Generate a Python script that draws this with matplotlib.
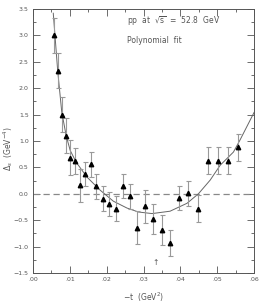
import numpy as np
import matplotlib
matplotlib.use("Agg")
import matplotlib.pyplot as plt
from matplotlib.ticker import MultipleLocator, FuncFormatter

t = [0.0057, 0.0067, 0.0078, 0.0090, 0.0101, 0.0115, 0.0128, 0.0141, 0.0157,
     0.0172, 0.0189, 0.0207, 0.0225, 0.0243, 0.0263, 0.0283, 0.0305, 0.0326,
     0.0349, 0.0373, 0.0397, 0.0422, 0.0448, 0.0474, 0.0501, 0.0528, 0.0557]
delta = [3.00, 2.33, 1.50, 1.10, 0.68, 0.62, 0.16, 0.37, 0.56,
         0.14, -0.09, -0.20, -0.28, 0.15, -0.05, -0.64, -0.24, -0.48,
         -0.69, -0.93, -0.08, 0.01, -0.28, 0.63, 0.63, 0.63, 0.88]
err = [0.33, 0.33, 0.33, 0.33, 0.33, 0.25, 0.31, 0.23, 0.24,
       0.23, 0.23, 0.23, 0.23, 0.23, 0.23, 0.32, 0.32, 0.29,
       0.28, 0.25, 0.23, 0.24, 0.25, 0.25, 0.25, 0.25, 0.25]

# polynomial fit curve
fit_t = [0.0055, 0.0067, 0.0078, 0.0090, 0.0101, 0.0117, 0.0146, 0.0182, 0.0218,
         0.0255, 0.0286, 0.0323, 0.0372, 0.0418, 0.0449, 0.0481, 0.0508, 0.0544,
         0.0562, 0.0600]
fit_d = [3.42, 2.33, 1.55, 1.10, 0.82, 0.60, 0.32, 0.07, -0.14,
         -0.27, -0.345, -0.375, -0.33, -0.18, 0.0, 0.26, 0.54, 0.79,
         1.02, 1.54]

grey = "#555555"
plt.rcParams["font.family"] = "DejaVu Sans"

fig = plt.figure(figsize=(2.63, 3.05), dpi=100)
ax = fig.add_axes([0.1255, 0.105, 0.8405, 0.8655])

ax.axhline(0, color="#888888", lw=0.9, dashes=(5, 3))
ax.plot(fit_t, fit_d, color="#666666", lw=0.7)
ax.errorbar(t, delta, yerr=err, fmt="none", ecolor="#999999", elinewidth=0.8,
            capsize=1.8, capthick=0.8)
ax.plot(t, delta, "^", color="black", ms=3.2)

ax.set_xlim(0, 0.06)
ax.set_ylim(-1.5, 3.5)
ax.xaxis.set_major_locator(MultipleLocator(0.01))
ax.xaxis.set_minor_locator(MultipleLocator(0.005))
ax.yaxis.set_major_locator(MultipleLocator(0.5))
ax.yaxis.set_minor_locator(MultipleLocator(0.25))
ax.xaxis.set_major_formatter(FuncFormatter(lambda v, p: ("%.2f" % v)[1:]))
ax.yaxis.set_major_formatter(FuncFormatter(lambda v, p: ("%.1f" % v).replace("-", "\u2212")))
ax.tick_params(which="both", direction="in", top=True, right=True, colors=grey,
               labelsize=4.5, width=0.6)
ax.tick_params(which="major", length=5, pad=3)
ax.tick_params(which="minor", length=2.5)
for s in ax.spines.values():
    s.set_color(grey)
    s.set_linewidth(0.7)

ax.text(0.0255, 3.22, r"pp  at  $\sqrt{\mathrm{s}}$  =  52.8  GeV", fontsize=5.5, color=grey)
ax.text(0.0255, 2.85, "Polynomial  fit", fontsize=5.5, color=grey)
ax.text(0.0332, -1.3, "\u2191", fontsize=5.5, color=grey, ha="center", va="center")

ax.set_xlabel("\u2212t  (GeV$^2$)", fontsize=5.5, color=grey)
ax.set_ylabel("$\\Delta_s$  (GeV$^{-4}$)", fontsize=5.5, color=grey)
ax.xaxis.set_label_coords(0.5, -0.065)
ax.yaxis.set_label_coords(-0.08, 0.47)

fig.savefig("out.png", dpi=100)
